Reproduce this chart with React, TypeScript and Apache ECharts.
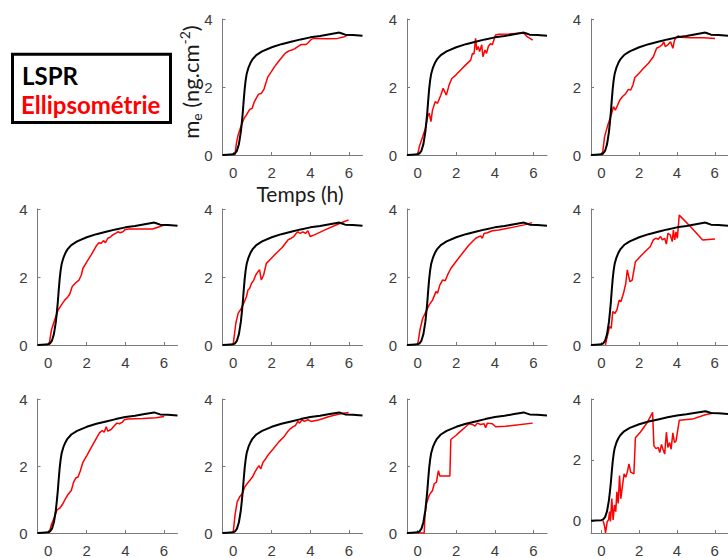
import React, { useEffect, useRef } from "react";
import * as echarts from "echarts";

// LSPR reference curve (same in every panel): [time h, m_e ng.cm-2]
const lspr: number[][] = [
  [-0.55, 0], [-0.3, 0.01], [0, 0.02], [0.1, 0.05], [0.2, 0.13], [0.3, 0.32], [0.4, 0.68],
  [0.45, 0.95], [0.5, 1.25], [0.55, 1.62], [0.6, 1.95], [0.65, 2.2], [0.7, 2.38], [0.8, 2.58],
  [0.9, 2.71], [1.0, 2.81], [1.2, 2.94], [1.5, 3.05], [2.0, 3.17], [2.5, 3.26], [3.0, 3.33],
  [3.5, 3.4], [4.0, 3.46], [4.5, 3.5], [5.0, 3.55], [5.5, 3.6], [5.6, 3.58], [5.8, 3.54],
  [6.2, 3.53], [6.7, 3.51],
];

// Ellipsometry curves, one per panel
const ell1: number[][] = [
  [0.09, 0], [0.17, 0.34], [0.26, 0.59], [0.4, 0.83], [0.57, 1.08], [0.69, 1.18], [0.86, 1.34],
  [0.98, 1.37], [1.08, 1.54], [1.2, 1.67], [1.32, 1.79], [1.46, 1.81], [1.6, 1.94], [1.72, 2.16],
  [1.8, 2.3], [1.98, 2.45], [2.15, 2.6], [2.35, 2.75], [2.58, 2.91], [2.7, 2.99], [2.8, 3.03],
  [2.92, 3.07], [3.04, 3.09], [3.18, 3.12], [3.35, 3.19], [3.49, 3.24], [3.6, 3.25], [3.78, 3.25],
  [3.9, 3.31], [4.04, 3.4], [4.2, 3.43], [4.9, 3.42], [5.41, 3.43], [5.76, 3.48], [6.01, 3.54],
];
const ell2: number[][] = [
  [0, 0], [0.09, 0.25], [0.26, 0.54], [0.4, 0.78], [0.52, 1.13], [0.6, 1.23], [0.69, 0.98],
  [0.77, 1.32], [0.91, 1.57], [1.03, 1.52], [1.2, 1.76], [1.32, 1.96], [1.49, 1.76], [1.63, 2.06],
  [1.77, 2.25], [1.98, 2.35], [2.23, 2.5], [2.49, 2.65], [2.75, 2.79], [2.84, 2.99], [2.92, 2.97],
  [3.0, 3.43], [3.06, 3.09], [3.14, 3.19], [3.21, 3.04], [3.32, 3.24], [3.38, 2.89], [3.49, 3.09],
  [3.57, 2.99], [3.66, 3.19], [3.78, 3.28], [3.87, 3.24], [3.95, 3.38], [4.04, 3.53], [4.21, 3.55],
  [4.73, 3.56], [5.24, 3.58], [5.5, 3.58], [5.67, 3.48], [5.96, 3.38],
];
const ell3: number[][] = [
  [0.05, 0], [0.17, 0.54], [0.34, 0.88], [0.52, 1.18], [0.64, 1.42], [0.74, 1.32], [0.86, 1.47],
  [0.98, 1.62], [1.12, 1.72], [1.29, 1.81], [1.43, 1.93], [1.55, 1.91], [1.67, 2.06], [1.77, 2.28],
  [1.98, 2.4], [2.23, 2.55], [2.49, 2.7], [2.75, 2.89], [2.92, 3.14], [3.09, 3.19], [3.21, 3.24],
  [3.3, 3.33], [3.38, 3.19], [3.52, 3.24], [3.66, 3.33], [3.78, 3.14], [3.87, 3.38], [3.95, 3.46],
  [4.07, 3.5], [4.21, 3.46], [4.72, 3.45], [5.41, 3.45], [6.01, 3.43],
];
const ell4: number[][] = [
  [0.05, 0], [0.17, 0.44], [0.34, 0.74], [0.52, 1.03], [0.69, 1.18], [0.86, 1.32], [1.03, 1.42],
  [1.12, 1.5], [1.25, 1.72], [1.43, 1.83], [1.6, 1.91], [1.72, 2.06], [1.8, 2.25], [2.01, 2.45],
  [2.23, 2.65], [2.49, 2.91], [2.63, 3.01], [2.75, 2.99], [2.87, 3.07], [2.97, 3.01], [3.09, 3.14],
  [3.21, 3.17], [3.35, 3.24], [3.49, 3.28], [3.61, 3.33], [3.73, 3.3], [3.87, 3.33], [4.0, 3.4],
  [4.21, 3.41], [5.41, 3.41], [5.76, 3.48], [6.01, 3.53],
];
const ell5: number[][] = [
  [0, 0], [0.14, 0.64], [0.26, 0.93], [0.43, 1.08], [0.55, 1.23], [0.69, 1.42], [0.77, 1.62],
  [0.86, 1.67], [0.95, 1.81], [1.07, 1.91], [1.17, 2.06], [1.29, 2.16], [1.37, 2.21], [1.46, 1.91],
  [1.58, 2.06], [1.72, 2.4], [1.98, 2.55], [2.23, 2.7], [2.54, 2.87], [2.84, 3.09], [3.01, 3.14],
  [3.14, 3.19], [3.26, 3.28], [3.35, 3.33], [3.47, 3.28], [3.61, 3.33], [3.75, 3.28], [3.87, 3.36],
  [3.99, 3.19], [4.21, 3.24], [4.73, 3.38], [5.33, 3.53], [5.67, 3.61], [5.98, 3.68],
];
const ell6: number[][] = [
  [0, 0], [0.12, 0.44], [0.26, 0.78], [0.43, 0.98], [0.6, 1.18], [0.77, 1.32], [0.95, 1.57],
  [1.03, 1.52], [1.15, 1.76], [1.29, 1.91], [1.43, 1.89], [1.55, 2.06], [1.72, 2.25], [1.98, 2.45],
  [2.32, 2.7], [2.66, 2.94], [3.01, 3.14], [3.26, 3.21], [3.35, 3.14], [3.44, 3.28], [3.61, 3.3],
  [3.87, 3.36], [4.21, 3.38], [4.9, 3.46], [5.58, 3.54], [5.93, 3.6],
];
const ell7: number[][] = [
  [0.21, 0], [0.31, 0.25], [0.43, 0.54], [0.52, 0.49], [0.6, 0.98], [0.72, 0.93], [0.82, 1.03],
  [0.94, 1.32], [1.03, 1.27], [1.17, 1.52], [1.29, 1.81], [1.37, 2.21], [1.51, 1.86], [1.63, 1.91],
  [1.8, 2.45], [2.06, 2.6], [2.32, 2.75], [2.58, 2.89], [2.75, 3.09], [2.89, 3.14], [3.01, 3.11],
  [3.13, 3.19], [3.23, 3.09], [3.35, 3.14], [3.44, 2.97], [3.52, 3.28], [3.64, 3.24], [3.75, 3.04],
  [3.81, 3.38], [3.88, 3.09], [3.95, 3.33], [4.02, 3.14], [4.12, 3.82], [4.72, 3.48], [5.36, 3.09],
  [6.01, 3.12],
];
const ell8: number[][] = [
  [0.05, 0], [0.17, 0.25], [0.34, 0.49], [0.46, 0.69], [0.6, 0.74], [0.74, 0.85], [0.86, 0.98],
  [1.03, 1.15], [1.2, 1.27], [1.32, 1.52], [1.43, 1.64], [1.55, 1.67], [1.67, 1.86], [1.8, 2.11],
  [2.01, 2.32], [2.23, 2.55], [2.46, 2.79], [2.66, 2.99], [2.8, 3.06], [2.9, 3.01], [3.01, 3.17],
  [3.09, 3.04], [3.26, 3.09], [3.44, 3.21], [3.56, 3.28], [3.69, 3.26], [3.83, 3.3], [3.95, 3.38],
  [4.12, 3.4], [4.9, 3.42], [5.58, 3.44], [6.01, 3.48],
];
const ell9: number[][] = [
  [0, 0], [0.1, 0.54], [0.21, 0.93], [0.34, 1.08], [0.48, 1.18], [0.6, 1.37], [0.72, 1.47],
  [0.86, 1.57], [1.0, 1.67], [1.12, 1.81], [1.24, 1.93], [1.34, 2.01], [1.43, 1.91], [1.55, 2.11],
  [1.68, 2.21], [1.8, 2.32], [2.06, 2.5], [2.37, 2.72], [2.66, 2.89], [2.84, 3.04], [2.96, 3.11],
  [3.09, 3.17], [3.23, 3.21], [3.35, 3.33], [3.44, 3.28], [3.57, 3.38], [3.69, 3.33], [3.87, 3.38],
  [4.04, 3.33], [4.47, 3.38], [4.98, 3.48], [5.5, 3.55], [5.98, 3.6],
];
const ell10: number[][] = [
  [0, 0], [0.34, 0], [0.38, 0.54], [0.46, 0.88], [0.6, 1.13], [0.77, 1.27], [0.86, 1.47],
  [0.98, 1.52], [1.03, 1.72], [1.08, 1.86], [1.15, 1.7], [1.29, 1.7], [1.67, 1.7], [1.72, 2.79],
  [1.98, 2.91], [2.23, 3.04], [2.49, 3.17], [2.66, 3.26], [2.84, 3.24], [2.97, 3.19], [3.09, 3.28],
  [3.26, 3.24], [3.44, 3.26], [3.52, 3.14], [3.61, 3.28], [3.87, 3.26], [4.04, 3.17], [4.55, 3.19],
  [5.24, 3.23], [5.96, 3.28],
];
const ell11: number[][] = [
  [0.09, 0], [0.17, -0.18], [0.22, -0.4], [0.31, -0.02], [0.38, 0.03], [0.43, 0.3], [0.48, -0.02],
  [0.55, 0.73], [0.62, 0.03], [0.69, 0.52], [0.76, 0.3], [0.82, 0.95], [0.89, 0.57], [0.96, 1.49],
  [1.03, 0.73], [1.12, 1.17], [1.2, 1.54], [1.29, 1.43], [1.37, 1.6], [1.46, 1.87], [1.55, 1.6],
  [1.72, 1.54], [1.8, 2.73], [2.06, 2.91], [2.41, 3.21], [2.71, 3.56], [2.78, 2.46], [2.89, 2.37],
  [3.01, 2.41], [3.09, 2.24], [3.18, 2.51], [3.26, 2.35], [3.35, 2.19], [3.44, 2.91], [3.52, 2.41],
  [3.61, 2.57], [3.69, 2.35], [3.78, 2.89], [3.87, 2.57], [3.95, 2.62], [4.12, 3.3], [4.81, 3.34],
  [5.5, 3.48], [5.93, 3.54],
];

const xTicks = [0, 2, 4, 6];
const yTicks = [0, 2, 4];
const xMin = -0.55;
const xMax = 6.7;
const yMaxes = 4;
const panelYMin = [0, 0, 0, 0, 0, 0, 0, 0, 0, 0, -0.4];
const ellSeries = [ell1, ell2, ell3, ell4, ell5, ell6, ell7, ell8, ell9, ell10, ell11];

// layout
const panelCell = [
  [0, 1], [0, 2], [0, 3],
  [1, 0], [1, 1], [1, 2], [1, 3],
  [2, 0], [2, 1], [2, 2], [2, 3],
];
const colX = [37.5, 222.5, 407, 591];
const rowY = [19, 209, 399];
const PW = 140;
const PH = 136;

const axisColor = "#7a7a7a";
const labelColor = "#3c3c3c";

export default function App() {
  const ref = useRef<HTMLDivElement>(null);
  useEffect(() => {
    const chart = echarts.init(ref.current!, null, { renderer: "svg" });
    const grids: any[] = [];
    const xAxes: any[] = [];
    const yAxes: any[] = [];
    const series: any[] = [];
    panelCell.forEach(([r, c], i) => {
      grids.push({ left: colX[c], top: rowY[r], width: PW, height: PH, containLabel: false });
      xAxes.push({
        type: "value",
        gridIndex: i,
        min: xMin,
        max: xMax,
        axisLine: { show: true, onZero: false, lineStyle: { color: axisColor, width: 1 } },
        axisTick: { show: true, inside: true, length: 3, customValues: xTicks, lineStyle: { color: axisColor } },
        axisLabel: {
          customValues: xTicks,
          margin: 10,
          fontSize: 15,
          color: labelColor,
          fontFamily: "Liberation Sans",
        },
        splitLine: { show: false },
      });
      yAxes.push({
        type: "value",
        gridIndex: i,
        min: panelYMin[i],
        max: yMaxes,
        axisLine: { show: true, onZero: false, lineStyle: { color: axisColor, width: 1 } },
        axisTick: { show: true, inside: true, length: 3, customValues: yTicks, lineStyle: { color: axisColor } },
        axisLabel: {
          customValues: yTicks,
          margin: 10,
          fontSize: 15,
          color: labelColor,
          fontFamily: "Liberation Sans",
        },
        splitLine: { show: false },
      });
      series.push({
        type: "line",
        xAxisIndex: i,
        yAxisIndex: i,
        data: ellSeries[i],
        showSymbol: false,
        symbol: "none",
        lineStyle: { color: "#ff0000", width: 1.5 },
        z: 2,
      });
      series.push({
        type: "line",
        xAxisIndex: i,
        yAxisIndex: i,
        data: lspr,
        showSymbol: false,
        symbol: "none",
        lineStyle: { color: "#000000", width: 2 },
        z: 3,
      });
    });

    chart.setOption({
      animation: false,
      backgroundColor: "#ffffff",
      grid: grids,
      xAxis: xAxes,
      yAxis: yAxes,
      series,
      graphic: [
        {
          type: "rect",
          shape: { x: 12.5, y: 54.2, width: 158, height: 68.3 },
          style: { fill: "#ffffff", stroke: "#000000", lineWidth: 3 },
        },
        {
          type: "text",
          x: 22,
          y: 75,
          style: {
            text: "LSPR",
            fill: "#000000",
            font: "bold 24px Lato",
            verticalAlign: "middle",
            align: "left",
          },
        },
        {
          type: "text",
          x: 21,
          y: 104,
          style: {
            text: "Ellipsométrie",
            fill: "#ff0000",
            font: "bold 24px Lato",
            verticalAlign: "middle",
            align: "left",
          },
        },
        {
          type: "text",
          x: 300,
          y: 193,
          style: {
            text: "Temps (h)",
            fill: "#1a1a1a",
            font: "21px Lato",
            align: "center",
            verticalAlign: "middle",
          },
        },
        {
          type: "text",
          x: 190,
          y: 82,
          rotation: Math.PI / 2,
          style: {
            text: "{n|m}{sub|e}{n| (ng.cm}{sup|-2}{n|)}",
            fill: "#1a1a1a",
            align: "center",
            verticalAlign: "middle",
            rich: {
              n: { fontSize: 22, fontFamily: "Lato", fill: "#1a1a1a", lineHeight: 26, verticalAlign: "middle" },
              sub: { fontSize: 14, fontFamily: "Lato", fill: "#1a1a1a", lineHeight: 26, verticalAlign: "bottom" },
              sup: { fontSize: 14, fontFamily: "Lato", fill: "#1a1a1a", lineHeight: 26, verticalAlign: "top" },
            },
          },
        },
      ],
    });
    return () => chart.dispose();
  }, []);
  return (
    <div
      ref={ref}
      style={{ position: "absolute", left: 0, top: 0, width: 728, height: 558, background: "#fff" }}
    />
  );
}
